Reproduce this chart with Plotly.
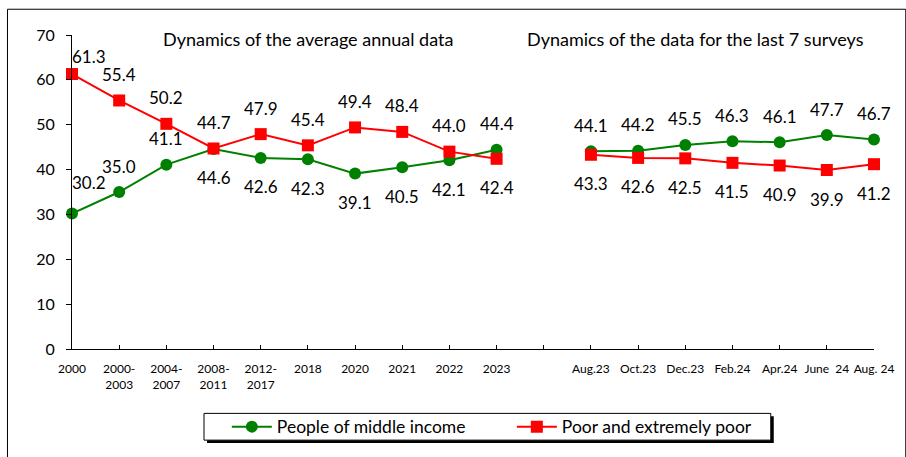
import plotly.graph_objects as go

# ---- data ----
categories = ["2000", "2000-<br>2003", "2004-<br>2007", "2008-<br>2011", "2012-<br>2017",
              "2018", "2020", "2021", "2022", "2023", "",
              "Aug.23", "Oct.23", "Dec.23", "Feb.24", "Apr.24", "June\u00a0 24", "Aug. 24"]
middle_income = [30.2, 35.0, 41.1, 44.6, 42.6, 42.3, 39.1, 40.5, 42.1, 44.4, None,
                 44.1, 44.2, 45.5, 46.3, 46.1, 47.7, 46.7]
poor = [61.3, 55.4, 50.2, 44.7, 47.9, 45.4, 49.4, 48.4, 44.0, 42.4, None,
        43.3, 42.6, 42.5, 41.5, 40.9, 39.9, 41.2]
series_names = ["People of middle income", "Poor and extremely poor"]
titles = ["Dynamics of the average annual data", "Dynamics of the data for the last 7 surveys"]

# label placement (style): 'a' above, 'b' below
green_pos = ["a", "a", "a", "b", "b", "b", "b", "b", "b", "a", None,
             "a", "a", "a", "a", "a", "a", "a"]
red_pos = ["a", "a", "a", "a", "a", "a", "a", "a", "a", "b", None,
           "b", "b", "b", "b", "b", "b", "b"]

W, H = 906, 457
ML, MR, MT, MB = 72, 26, 35, 105
PW, PH = W - ML - MR, H - MT - MB
FONT = "Lato"
GREEN = "#008000"
RED = "#ff0000"


def px_x(p):
    return (p - ML) / PW


def px_y(p):
    return (H - MB - p) / PH


xs = list(range(len(categories)))

fig = go.Figure()
fig.add_trace(go.Scatter(x=xs, y=middle_income, name=series_names[0], mode="lines+markers",
                         line=dict(color=GREEN, width=2),
                         marker=dict(symbol="circle", size=12, color=GREEN),
                         cliponaxis=False, connectgaps=False))
fig.add_trace(go.Scatter(x=xs, y=poor, name=series_names[1], mode="lines+markers",
                         line=dict(color=RED, width=2),
                         marker=dict(symbol="square", size=12, color=RED),
                         cliponaxis=False, connectgaps=False))

annotations = []
for vals, pos in ((middle_income, green_pos), (poor, red_pos)):
    for i, (v, p) in enumerate(zip(vals, pos)):
        if v is None:
            continue
        ys = 26 if p == "a" else -29
        xsft = 0
        if i == 0:
            xsft = 17
            ys = 18 if vals is poor else 31
        annotations.append(dict(x=i, y=v, text=f"{v:.1f}", showarrow=False,
                                xshift=xsft, yshift=ys, xanchor="center", yanchor="middle",
                                font=dict(family=FONT, size=17, color="#000000")))

annotations.append(dict(xref="paper", yref="paper", x=px_x(310), y=px_y(39), text=titles[0],
                        showarrow=False, xanchor="center", yanchor="middle",
                        font=dict(family=FONT, size=18, color="#000000")))
annotations.append(dict(xref="paper", yref="paper", x=px_x(700), y=px_y(39), text=titles[1],
                        showarrow=False, xanchor="center", yanchor="middle",
                        font=dict(family=FONT, size=18, color="#000000")))

shapes = [
    # outer chart frame
    dict(type="rect", xref="paper", yref="paper", x0=px_x(7), x1=px_x(912), y0=px_y(462), y1=px_y(9),
         line=dict(color="#000000", width=1), fillcolor="rgba(0,0,0,0)", layer="below"),
    # legend box shadow
    dict(type="rect", xref="paper", yref="paper", x0=px_x(208), x1=px_x(779), y0=px_y(447), y1=px_y(420),
         line=dict(width=0), fillcolor="#000000", layer="below"),
    # legend box
    dict(type="rect", xref="paper", yref="paper", x0=px_x(205), x1=px_x(776), y0=px_y(444), y1=px_y(417),
         line=dict(color="#000000", width=1), fillcolor="#ffffff", layer="below"),
]

fig.update_layout(
    width=W, height=H,
    margin=dict(l=ML, r=MR, t=MT, b=MB, pad=0),
    paper_bgcolor="white", plot_bgcolor="white",
    font=dict(family=FONT, color="#000000"),
    showlegend=True,
    legend=dict(orientation="h", xanchor="left", yanchor="middle", x=px_x(228), y=px_y(430.5),
                borderwidth=0, bgcolor="rgba(0,0,0,0)",
                font=dict(family=FONT, size=17.5, color="#000000"),
                entrywidth=230, itemwidth=40, tracegroupgap=0),
    annotations=annotations,
    shapes=shapes,
    xaxis=dict(range=[0, len(categories) - 1], tickmode="array", tickvals=xs, ticktext=categories,
               showgrid=False, zeroline=False, showline=True, linecolor="#000000", linewidth=1,
               ticks="inside", ticklen=4, tickcolor="#000000", ticklabelstandoff=9,
               tickfont=dict(family=FONT, size=12, color="#000000"), tickangle=0),
    yaxis=dict(range=[0, 70], tickvals=[0, 10, 20, 30, 40, 50, 60, 70],
               showgrid=False, zeroline=False, showline=True, linecolor="#000000", linewidth=1,
               ticks="outside", ticklen=5, tickcolor="#000000", ticklabelstandoff=8,
               tickfont=dict(family=FONT, size=16, color="#000000")),
)

fig.write_html("out.html", config={"displayModeBar": False},
               post_script="document.body.style.margin='0';")
